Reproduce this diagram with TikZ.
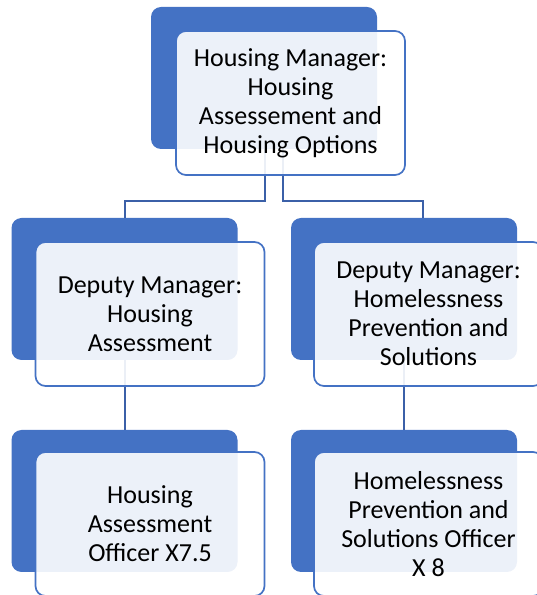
\documentclass[tikz,border=0pt]{standalone}
\usepackage{fontspec}
\setmainfont{Carlito}
\usetikzlibrary{positioning}

\definecolor{accent}{RGB}{68,114,196}
\definecolor{linkblue}{RGB}{59,96,168}

\tikzset{
  backbox/.style={rectangle, rounded corners=10pt, fill=accent, draw=none,
    minimum width=226pt, minimum height=142pt, inner sep=0pt},
  frontbox/.style={rectangle, rounded corners=10pt, draw=accent, line width=1.7pt,
    fill=white, fill opacity=0.9, text opacity=1, draw opacity=1,
    minimum width=229pt, minimum height=144pt, inner sep=0pt,
    align=center, font=\fontsize{26pt}{29pt}\selectfont},
  link/.style={draw=linkblue, line width=2pt}
}

\begin{document}
\begin{tikzpicture}[x=1pt, y=1pt]
  \useasboundingbox (0,0) rectangle (537,595);
  % back layer
  \node (B1) [backbox] at (264,517) {};
  \node (B2) [backbox] at (124.5,306) {};
  \node (B3) [backbox] at (404,306) {};
  \node (B4) [backbox] at (124.5,94) {};
  \node (B5) [backbox] at (404,94) {};
  % connectors
  \coordinate (L1) at (265,394);
  \coordinate (R1) at (283,394);
  \draw[link] (B1.south -| L1) -- (L1) -| (B2.north);
  \draw[link] (B1.south -| R1) -- (R1) -| (423,377);
  \draw[link] (B2.south) -- (B4.north);
  \draw[link] (B3.south) -- (B5.north);
  % front layer
  \node (F1) [frontbox] at (290.5,492) {Housing Manager:\\Housing\\Assessement and\\Housing Options};
  \node (F2) [frontbox] at (150,281) {Deputy Manager:\\Housing\\Assessment};
  \node (F3) [frontbox] at (428.5,281) {Deputy Manager:\\Homelessness\\Prevention and\\Solutions};
  \node (F4) [frontbox] at (150,71) {Housing\\Assessment\\Officer X7.5};
  \node (F5) [frontbox] at (428.5,71) {Homelessness\\Prevention and\\Solutions Officer\\X 8};
\end{tikzpicture}
\end{document}
